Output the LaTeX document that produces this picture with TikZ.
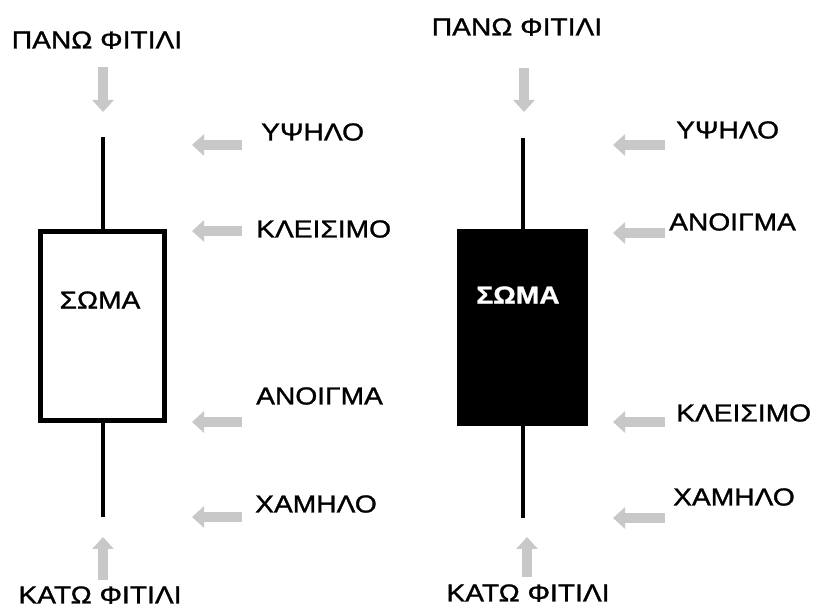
\documentclass[tikz,border=0pt]{standalone}
\usepackage{fontspec}
\usepackage{tikz}
\usetikzlibrary{arrows.meta}
\newfontfamily\lblfont[FakeStretch=1.15,FakeBold=1.2]{Liberation Sans}
\definecolor{arrowgray}{RGB}{200,200,200}
\tikzset{
  wick/.style={line width=4pt},
  pointer/.style={line width=10pt, color=arrowgray, -{Triangle[length=12pt,width=21pt]}},
  lbl/.style={font=\lblfont\fontsize{24.5}{28}\selectfont, inner sep=0pt},
  side/.style={lbl, anchor=west}
}

\begin{document}
\begin{tikzpicture}[x=1pt,y=-1pt]
\useasboundingbox (0,0) rectangle (820,609);

% white candle
\node[draw, line width=5pt, minimum width=124pt, minimum height=189pt, inner sep=0pt] (bodyW) at (102.5,326) {};
\node[lbl] (somaW) at (100,300) {ΣΩΜΑ};
\coordinate (topW) at (102.5,137);
\coordinate (botW) at (102.5,517);
\draw[wick] (bodyW.north) -- (topW);
\draw[wick] (bodyW.south) -- (botW);

\node[lbl] (upW) at (97,40) {ΠΑΝΩ ΦΙΤΙΛΙ};
\node[lbl] (dnW) at (100,595) {ΚΑΤΩ ΦΙΤΙΛΙ};
\node[side] (hiW) at (261,132) {ΥΨΗΛΟ};
\node[side] (clW) at (256,229) {ΚΛΕΙΣΙΜΟ};
\node[side] (opW) at (256,396) {ΑΝΟΙΓΜΑ};
\node[side] (loW) at (255,504) {ΧΑΜΗΛΟ};

\draw[pointer] (103,67) -- (103,112);
\draw[pointer] (103,580) -- (103,537);
\draw[pointer] (242,145) -- (192,145);
\draw[pointer] (242,231) -- (192,231);
\draw[pointer] (242,422) -- (192,422);
\draw[pointer] (242,517) -- (192,517);

% black candle
\node[fill=black, minimum width=131pt, minimum height=197pt, inner sep=0pt] (bodyB) at (522.5,327.5) {};
\node[lbl, text=white, font=\lblfont\bfseries\fontsize{24.5}{28}\selectfont] (somaB) at (518,295) {ΣΩΜΑ};
\coordinate (topB) at (522.5,138);
\coordinate (botB) at (522.5,518);
\draw[wick] (bodyB.north) -- (topB);
\draw[wick] (bodyB.south) -- (botB);

\node[lbl] (upB) at (517,27) {ΠΑΝΩ ΦΙΤΙΛΙ};
\node[lbl] (dnB) at (528,593) {ΚΑΤΩ ΦΙΤΙΛΙ};
\node[side] (hiB) at (676,130) {ΥΨΗΛΟ};
\node[side] (opB) at (669,222) {ΑΝΟΙΓΜΑ};
\node[side] (clB) at (676,413) {ΚΛΕΙΣΙΜΟ};
\node[side] (loB) at (673,497) {ΧΑΜΗΛΟ};

\draw[pointer] (524,68) -- (524,112);
\draw[pointer] (527,577) -- (527,537);
\draw[pointer] (665,145) -- (613,145);
\draw[pointer] (665,233) -- (613,233);
\draw[pointer] (665,422) -- (613,422);
\draw[pointer] (665,518) -- (613,518);
\end{tikzpicture}
\end{document}
